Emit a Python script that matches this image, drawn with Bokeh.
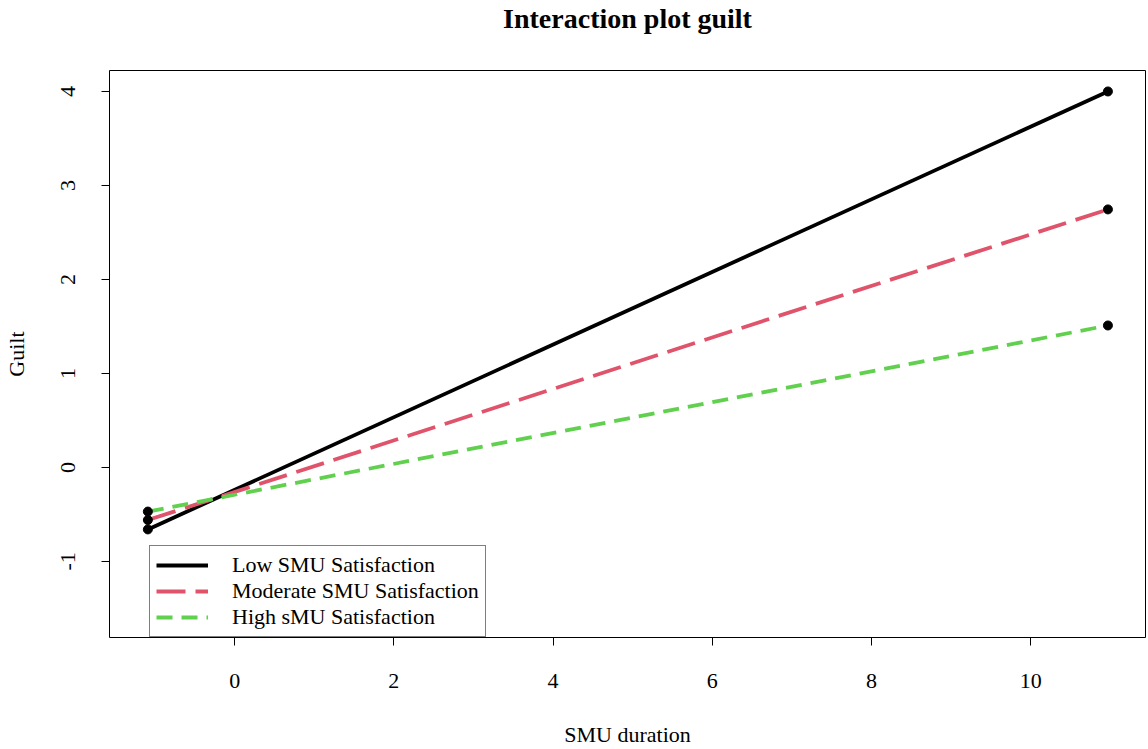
from bokeh.plotting import figure
from bokeh.models import FixedTicker, Range1d, Legend, LegendItem, PrintfTickFormatter, Title
from bokeh.embed import file_html
from bokeh.resources import INLINE

# Data
smu_duration = [-1.09, 10.97]
low_sat = [-0.66, 4.00]
moderate_sat = [-0.56, 2.745]
high_sat = [-0.47, 1.51]
x_ticks = [0, 2, 4, 6, 8, 10]
y_ticks = [-1, 0, 1, 2, 3, 4]
title_text = "Interaction plot guilt"

FONT = "Liberation Serif"

p = figure(width=1148, height=749, output_backend="svg", toolbar_location=None,
           x_range=Range1d(-1.572, 11.442), y_range=Range1d(-1.81, 4.223),
           min_border_left=108, min_border_right=3, min_border_top=70, min_border_bottom=112,
           title=title_text)

p.title.align = "center"
p.title.text_font = FONT
p.title.text_font_size = "28px"
p.title.text_font_style = "bold"
p.title.text_color = "black"
p.title.standoff = 0

# spacer between title and frame
spacer = Title(text=" ", text_font=FONT, text_font_size="1px", standoff=34)
p.add_layout(spacer, "above")

p.background_fill_color = "white"
p.border_fill_color = "white"
p.outline_line_color = "black"
p.outline_line_width = 1
p.grid.visible = False

p.xaxis.ticker = FixedTicker(ticks=x_ticks)
p.yaxis.ticker = FixedTicker(ticks=y_ticks)
p.yaxis.formatter = PrintfTickFormatter(format="%d")
p.xaxis.formatter = PrintfTickFormatter(format="%d")
for ax in (p.xaxis[0], p.yaxis[0]):
    ax.axis_line_color = None
    ax.minor_tick_line_color = None
    ax.major_tick_in = 0
    ax.major_tick_out = 8
    ax.major_tick_line_color = "black"
    ax.major_label_text_font = FONT
    ax.major_label_text_font_size = "22px"
    ax.major_label_text_color = "black"
    ax.axis_label_text_font = FONT
    ax.axis_label_text_font_size = "22px"
    ax.axis_label_text_font_style = "normal"
    ax.axis_label_text_color = "black"

p.xaxis.axis_label = "SMU duration"
p.yaxis.axis_label = "Guilt"
p.xaxis.major_label_standoff = 28
p.xaxis.axis_label_standoff = 31
p.yaxis.major_label_orientation = "vertical"
p.yaxis.major_label_standoff = 26
p.yaxis.axis_label_standoff = 30

r_low = p.line(smu_duration, low_sat, line_color="black", line_width=3.8)
r_mod = p.line(smu_duration, moderate_sat, line_color="#DF536B", line_width=3.8, line_dash="29 10")
r_high = p.line(smu_duration, high_sat, line_color="#61D04F", line_width=3.8, line_dash="16 9")
for ys in (low_sat, moderate_sat, high_sat):
    p.scatter(smu_duration, ys, size=9, color="black")

legend = Legend(items=[
    LegendItem(label="Low SMU Satisfaction", renderers=[r_low]),
    LegendItem(label="Moderate SMU Satisfaction", renderers=[r_mod]),
    LegendItem(label="High sMU Satisfaction", renderers=[r_high]),
], location=(40, 0))
legend.border_line_color = "black"
legend.border_line_width = 1
legend.background_fill_color = "white"
legend.background_fill_alpha = 1
legend.label_text_font = FONT
legend.label_text_font_size = "22px"
legend.label_text_color = "black"
legend.glyph_width = 52
legend.glyph_height = 22
legend.label_height = 22
legend.label_standoff = 24
legend.spacing = 0
legend.padding = 6
legend.margin = 0
p.add_layout(legend, "center")

open("out.html", "w").write(file_html(p, INLINE))
